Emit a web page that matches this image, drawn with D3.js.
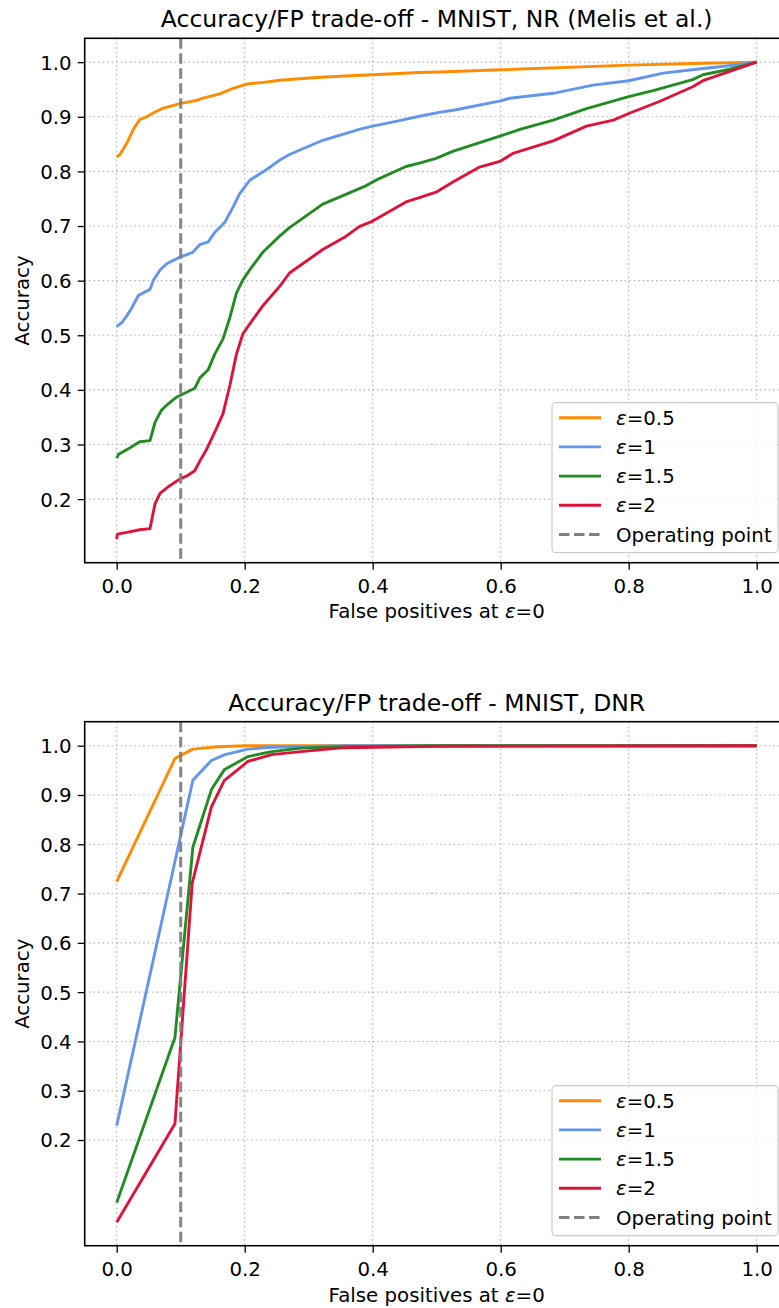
<!DOCTYPE html>
<html><head><meta charset="utf-8">
<script src="https://cdn.jsdelivr.net/npm/d3@7"></script>
<style>
body{margin:0;background:#fff;}
svg{display:block;font-family:"DejaVu Sans",sans-serif;}
</style></head><body>
<svg id="c" width="779" height="1308"></svg>
<script>
// ---------- DATA ----------
const seriesLabels = ["0.5", "1", "1.5", "2"];
const seriesColors = ["#ff8c00", "#6495ed", "#228b22", "#dc143c"];
const operatingPoint = 0.1;
const xTicks = [0.0, 0.2, 0.4, 0.6, 0.8, 1.0];
const yTicks = [0.2, 0.3, 0.4, 0.5, 0.6, 0.7, 0.8, 0.9, 1.0];

// Top panel: NR (Melis et al.)
const nrEps05 = [[0,0.826],[0.005,0.831],[0.016,0.852],[0.026,0.877],[0.036,0.895],[0.047,0.900],[0.057,0.907],[0.073,0.916],[0.099,0.924],[0.125,0.930],[0.135,0.934],[0.161,0.942],[0.182,0.952],[0.203,0.960],[0.229,0.963],[0.255,0.967],[0.312,0.972],[0.364,0.975],[0.4,0.977],[0.473,0.981],[0.504,0.982],[0.6,0.986],[0.8,0.9945],[0.916,0.998],[1.0,1.0]];
const nrEps1 = [[0,0.516],[0.008,0.523],[0.016,0.536],[0.023,0.549],[0.034,0.573],[0.042,0.578],[0.052,0.584],[0.057,0.600],[0.068,0.620],[0.078,0.631],[0.099,0.643],[0.119,0.652],[0.130,0.666],[0.143,0.671],[0.153,0.688],[0.169,0.707],[0.182,0.735],[0.192,0.759],[0.208,0.784],[0.234,0.803],[0.255,0.821],[0.270,0.831],[0.322,0.857],[0.379,0.877],[0.400,0.883],[0.442,0.893],[0.473,0.901],[0.504,0.908],[0.526,0.912],[0.6,0.929],[0.614,0.934],[0.682,0.943],[0.744,0.958],[0.8,0.966],[0.854,0.980],[0.906,0.987],[0.953,0.993],[1.0,1.0]];
const nrEps15 = [[0,0.275],[0.003,0.282],[0.021,0.294],[0.036,0.305],[0.052,0.307],[0.060,0.341],[0.070,0.363],[0.081,0.375],[0.094,0.387],[0.122,0.403],[0.130,0.422],[0.143,0.437],[0.153,0.465],[0.166,0.493],[0.177,0.533],[0.187,0.577],[0.197,0.601],[0.208,0.620],[0.229,0.653],[0.255,0.682],[0.270,0.697],[0.322,0.740],[0.358,0.758],[0.390,0.774],[0.405,0.784],[0.452,0.809],[0.473,0.815],[0.499,0.824],[0.526,0.837],[0.6,0.865],[0.630,0.877],[0.682,0.894],[0.734,0.915],[0.8,0.937],[0.838,0.948],[0.900,0.968],[0.916,0.977],[0.958,0.987],[1.0,1.0]];
const nrEps2 = [[0,0.127],[0.001,0.136],[0.016,0.139],[0.036,0.144],[0.052,0.146],[0.060,0.192],[0.068,0.211],[0.081,0.223],[0.099,0.237],[0.109,0.242],[0.122,0.252],[0.130,0.270],[0.140,0.290],[0.153,0.322],[0.166,0.356],[0.177,0.409],[0.187,0.465],[0.197,0.502],[0.208,0.521],[0.229,0.555],[0.255,0.590],[0.270,0.614],[0.322,0.657],[0.358,0.681],[0.379,0.699],[0.400,0.709],[0.452,0.744],[0.473,0.752],[0.499,0.762],[0.526,0.781],[0.567,0.808],[0.6,0.819],[0.619,0.833],[0.682,0.856],[0.734,0.883],[0.776,0.894],[0.8,0.906],[0.848,0.928],[0.900,0.955],[0.916,0.966],[0.958,0.983],[1.0,1.0]];

// Bottom panel: DNR
const dnrEps05 = [[0,0.724],[0.091,0.974],[0.119,0.993],[0.158,0.998],[0.2,1.0],[0.4,1.0],[1.0,1.0]];
const dnrEps1 = [[0,0.229],[0.119,0.930],[0.148,0.970],[0.169,0.982],[0.205,0.993],[0.242,0.997],[0.356,1.0],[1.0,1.0]];
const dnrEps15 = [[0,0.073],[0.091,0.408],[0.119,0.794],[0.148,0.911],[0.168,0.951],[0.205,0.978],[0.242,0.988],[0.288,0.995],[0.356,0.998],[0.5,1.0],[1.0,1.0]];
const dnrEps2 = [[0,0.033],[0.091,0.233],[0.118,0.721],[0.148,0.876],[0.168,0.929],[0.205,0.968],[0.242,0.982],[0.288,0.988],[0.356,0.996],[0.5,0.999],[1.0,1.0]];

// ---------- DRAW ----------
const svg = d3.select("#c");
const tickFont = 19.8;

function panel(cfg){
  const x = d3.scaleLinear().domain([-0.05, 1.05]).range([84.7, 788.7]);
  const y = d3.scaleLinear().domain(cfg.yDomain).range([cfg.bottom, cfg.top]);
  const g = svg.append("g");
  // grid
  g.append("g").selectAll("line").data(xTicks).join("line")
    .attr("x1", d=>x(d)).attr("x2", d=>x(d)).attr("y1", cfg.top).attr("y2", cfg.bottom)
    .attr("stroke", "#b0b0b0").attr("stroke-width", 1.1).attr("stroke-dasharray", "1.5,3");
  g.append("g").selectAll("line").data(yTicks).join("line")
    .attr("x1", x.range()[0]).attr("x2", x.range()[1]).attr("y1", d=>y(d)).attr("y2", d=>y(d))
    .attr("stroke", "#b0b0b0").attr("stroke-width", 1.1).attr("stroke-dasharray", "1.5,3");
  // lines
  const line = d3.line().x(d=>x(d[0])).y(d=>y(d[1]));
  cfg.series.forEach((s,i)=>{
    g.append("path").attr("d", line(s)).attr("fill","none")
      .attr("stroke", seriesColors[i]).attr("stroke-width", 2.9)
      .attr("stroke-linejoin","round").attr("stroke-linecap","butt");
  });
  // operating point
  g.append("line").attr("x1", x(operatingPoint)).attr("x2", x(operatingPoint))
    .attr("y1", cfg.top).attr("y2", cfg.bottom)
    .attr("stroke", "#808080").attr("stroke-opacity", 0.95).attr("stroke-width", 3).attr("stroke-dasharray", "10.5,4.5");
  // axes
  const xa = g.append("g").attr("transform", `translate(0,${cfg.bottom})`)
    .call(d3.axisBottom(x).tickValues(xTicks).tickFormat(d3.format(".1f")).tickSize(7).tickPadding(6));
  const ya = g.append("g").attr("transform", `translate(${x.range()[0]},0)`)
    .call(d3.axisLeft(y).tickValues(yTicks).tickFormat(d3.format(".1f")).tickSize(7).tickPadding(6));
  [xa, ya].forEach(a=>{
    a.selectAll("text").attr("font-size", tickFont).attr("font-family","DejaVu Sans").attr("fill","#000");
    a.selectAll("line").attr("stroke","#000").attr("stroke-width",1.3);
    a.select(".domain").remove();
  });
  ya.selectAll("text").attr("dy","0.35em");
  xa.selectAll("text").attr("dy","0.85em");
  // spines
  g.append("rect").attr("x", x.range()[0]).attr("y", cfg.top)
    .attr("width", x.range()[1]-x.range()[0]).attr("height", cfg.bottom-cfg.top)
    .attr("fill","none").attr("stroke","#000").attr("stroke-width",1.6);
  // title
  g.append("text").attr("x", 436.7).attr("y", cfg.titleY).attr("text-anchor","middle")
    .attr("font-size", 23.5).text(cfg.title);
  // x label
  const xl = g.append("text").attr("x", 436.7).attr("y", cfg.xlabelY).attr("text-anchor","middle")
    .attr("font-size", tickFont);
  xl.append("tspan").text("False positives at ");
  xl.append("tspan").attr("font-style","italic").text("ε");
  xl.append("tspan").text("=0");
  // y label
  g.append("text").attr("transform", `translate(29,${(cfg.top+cfg.bottom)/2}) rotate(-90)`)
    .attr("text-anchor","middle").attr("font-size", tickFont).text("Accuracy");
  // legend
  const lg = g.append("g");
  lg.append("rect").attr("x", 552).attr("y", cfg.legendTop).attr("width", 226).attr("height", 150)
    .attr("rx", 4).attr("fill","#fff").attr("fill-opacity",0.8).attr("stroke","#cccccc").attr("stroke-width",1.2);
  const items = seriesLabels.map((l,i)=>({label:l, color:seriesColors[i], dash:null}))
    .concat([{label:"Operating point", color:"#808080", dash:"10.5,4.5"}]);
  items.forEach((it,i)=>{
    const yy = cfg.legendTop + 15 + i*29.2;
    lg.append("line").attr("x1", 559).attr("x2", 601).attr("y1", yy).attr("y2", yy)
      .attr("stroke", it.color).attr("stroke-width", 2.9).attr("stroke-dasharray", it.dash);
    const t = lg.append("text").attr("x", 616).attr("y", yy).attr("dy","0.36em").attr("font-size", tickFont);
    if(it.dash){ t.text(it.label); }
    else { t.append("tspan").attr("font-style","italic").text("ε"); t.append("tspan").text("="+it.label); }
  });
}

panel({top:38.3, bottom:562.7, yDomain:[0.0836, 1.0437], series:[nrEps05,nrEps1,nrEps15,nrEps2],
  title:"Accuracy/FP trade-off - MNIST, NR (Melis et al.)", titleY:26.5, xlabelY:617.5, legendTop:402.7});
panel({top:721.7, bottom:1245.7, yDomain:[-0.0144, 1.0487], series:[dnrEps05,dnrEps1,dnrEps15,dnrEps2],
  title:"Accuracy/FP trade-off - MNIST, DNR", titleY:710.5, xlabelY:1302, legendTop:1085.7});
</script>
</body></html>
